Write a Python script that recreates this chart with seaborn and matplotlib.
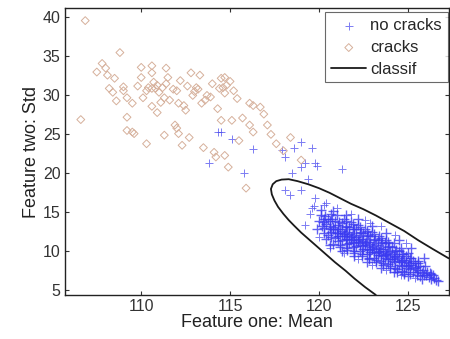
import numpy as np
import seaborn as sns
import matplotlib.pyplot as plt

# cracks: values
cracks_x = [106.85, 106.6, 108.8, 107.5, 107.8, 108.0, 108.1, 108.5, 108.2, 108.4,
            109.0, 109.2, 109.5, 109.2, 109.2, 109.5, 109.6, 110.0, 110.0, 110.1,
            110.3, 110.6, 110.3, 110.6, 110.6, 110.7, 110.8, 111.0, 111.3, 111.4,
            111.5, 111.2, 110.9, 110.6, 111.4, 111.6, 111.3, 112.0, 112.1, 112.0,
            111.9, 112.1, 112.3, 112.4, 112.5, 112.7, 112.8, 112.9, 113.1, 113.3,
            113.4, 113.5, 113.6, 113.7, 114.1, 114.0, 114.4, 114.5, 114.2, 114.7,
            114.6, 114.8, 114.7, 116.1, 116.3, 116.7, 114.5, 115.1, 115.7, 116.1,
            116.3, 117.1, 115.5, 117.6, 118.4, 114.7, 114.9, 119.0, 115.9, 109.8,
            110.4, 111.8, 112.6, 113.0, 113.9, 115.2, 115.0, 109.0, 108.6, 111.1,
            113.2, 112.2, 110.9, 114.3, 115.4, 116.9, 117.3, 118.0]
cracks_y = [39.6, 26.9, 35.5, 33.0, 34.1, 33.5, 32.6, 32.2, 30.9, 30.4,
            30.6, 29.7, 29.0, 27.2, 25.5, 25.3, 25.1, 33.6, 32.3, 29.7,
            30.6, 28.6, 23.8, 33.8, 32.9, 31.7, 30.9, 30.4, 29.7, 33.5,
            32.3, 31.0, 31.3, 30.9, 31.5, 29.4, 24.9, 30.6, 29.0, 25.8,
            26.2, 25.1, 23.6, 28.7, 28.1, 24.6, 32.9, 30.0, 31.0, 32.6,
            29.0, 23.3, 29.4, 30.0, 22.7, 31.5, 30.9, 32.2, 22.1, 32.3,
            31.0, 31.3, 30.3, 29.0, 28.7, 28.5, 26.8, 26.8, 27.1, 26.2,
            25.3, 26.2, 24.2, 23.8, 24.6, 22.3, 20.8, 21.7, 18.1, 31.2,
            31.0, 30.8, 31.2, 30.5, 29.8, 30.6, 31.8, 31.1, 29.3, 29.1,
            30.8, 31.9, 27.8, 28.3, 29.6, 27.6, 25.0, 22.9]

# no cracks: sparse upper-left points
sparse_x = [114.3, 113.8, 114.5, 115.1, 116.3, 117.9, 118.1, 118.6, 119.0, 119.6,
            119.8, 115.8, 118.5, 119.0, 119.2, 119.9, 121.3, 118.1, 119.0, 119.4,
            118.4, 119.8, 119.6, 120.4, 119.5, 119.7, 120.3, 121.0, 121.8, 122.6,
            123.5, 124.3, 120.0, 120.6, 121.4, 122.2, 123.0, 123.8, 124.6, 125.4,
            119.2, 122.9, 124.9]
sparse_y = [25.3, 21.3, 25.3, 24.4, 23.1, 23.0, 22.1, 23.2, 24.0, 23.3,
            21.3, 20.0, 20.1, 20.8, 21.3, 21.0, 20.6, 17.8, 17.8, 19.3,
            17.2, 16.9, 15.5, 16.2, 14.8, 15.8, 16.0, 15.6, 14.8, 14.0,
            13.2, 12.1, 11.8, 10.4, 9.8, 9.0, 8.3, 7.6, 7.0, 6.6,
            13.4, 13.6, 11.0]

# no cracks: dense cloud
dense_x = [120.1, 120.0, 120.2, 120.3, 119.9, 120.1,
           120.5, 120.4, 120.6, 120.5, 120.7, 120.4, 120.6,
           120.9, 120.8, 121.0, 120.9, 121.0, 120.8, 121.1, 120.9,
           121.3, 121.2, 121.4, 121.3, 121.2, 121.4, 121.3, 121.5, 121.2,
           121.7, 121.6, 121.8, 121.7, 121.6, 121.8, 121.7, 121.9, 121.6,
           122.1, 122.0, 122.2, 122.1, 122.0, 122.2, 122.1, 122.3, 122.0,
           122.5, 122.4, 122.6, 122.5, 122.4, 122.6, 122.5, 122.7, 122.4,
           122.9, 122.8, 123.0, 122.9, 122.8, 123.0, 122.9, 123.1, 122.8,
           123.3, 123.2, 123.4, 123.3, 123.2, 123.4, 123.3, 123.5, 123.2,
           123.7, 123.6, 123.8, 123.7, 123.6, 123.8, 123.7, 123.9, 123.6,
           124.1, 124.0, 124.2, 124.1, 124.0, 124.2, 124.1, 124.3, 124.0,
           124.5, 124.4, 124.6, 124.5, 124.4, 124.6, 124.5, 124.7,
           124.9, 124.8, 125.0, 124.9, 124.8, 125.0, 124.9,
           125.3, 125.2, 125.4, 125.3, 125.2, 125.4,
           125.7, 125.6, 125.8, 125.7, 125.6,
           126.1, 126.0, 126.2, 126.3,
           126.5, 126.6, 126.4]
dense_y = [14.6, 13.9, 13.2, 14.1, 12.8, 15.3,
           14.2, 13.5, 12.8, 12.1, 14.8, 11.6, 13.9,
           13.9, 13.1, 12.4, 11.7, 14.6, 10.9, 13.4, 12.8,
           13.6, 12.9, 12.2, 11.5, 10.8, 14.2, 12.6, 13.1, 11.9,
           13.1, 12.5, 11.8, 11.1, 10.4, 13.8, 12.2, 12.8, 11.6,
           12.8, 12.1, 11.4, 10.7, 10.1, 13.4, 11.8, 12.4, 11.1,
           12.3, 11.6, 11.0, 10.3, 9.6, 12.9, 11.3, 11.9, 10.7,
           11.9, 11.2, 10.6, 9.9, 9.2, 12.5, 10.9, 11.5, 10.2,
           11.4, 10.8, 10.1, 9.5, 8.9, 12.0, 10.4, 11.0, 9.8,
           11.0, 10.3, 9.7, 9.1, 8.5, 11.5, 10.0, 10.6, 9.4,
           10.5, 9.9, 9.3, 8.7, 8.1, 11.0, 9.6, 10.1, 9.0,
           10.0, 9.4, 8.8, 8.2, 7.7, 10.4, 9.1, 9.6,
           9.4, 8.9, 8.3, 7.8, 7.3, 9.8, 8.6,
           8.8, 8.3, 7.8, 7.3, 9.2, 8.5,
           8.1, 7.6, 7.2, 6.8, 8.5,
           7.4, 7.0, 6.7, 7.1,
           6.6, 6.3, 6.9]

# no cracks: second pass over the dense core, plus its outer fringe
core_x = [120.3, 120.25, 120.35, 120.3,
          120.7, 120.65, 120.75, 120.7, 120.8,
          121.1, 121.05, 121.15, 121.1, 121.0, 121.2,
          121.5, 121.45, 121.55, 121.5, 121.4, 121.6, 121.5,
          121.9, 121.85, 121.95, 121.9, 121.8, 122.0, 121.9,
          122.3, 122.25, 122.35, 122.3, 122.2, 122.4, 122.3,
          122.7, 122.65, 122.75, 122.7, 122.6, 122.8, 122.7,
          123.1, 123.05, 123.15, 123.1, 123.0, 123.2, 123.1,
          123.5, 123.45, 123.55, 123.5, 123.4, 123.6, 123.5,
          123.9, 123.85, 123.95, 123.9, 123.8, 124.0, 123.9,
          124.3, 124.25, 124.35, 124.3, 124.2, 124.4,
          124.7, 124.65, 124.75, 124.7, 124.6, 124.8,
          125.1, 125.05, 125.15, 125.1, 125.0,
          125.5, 125.45, 125.55, 125.5,
          125.9, 125.85, 125.95,
          126.3, 126.25,
          126.7,
          120.8, 121.5, 122.2, 123.0, 123.8, 124.5, 125.2, 125.9,
          120.6, 121.3, 122.0, 122.7, 123.5, 124.2, 125.0, 125.8]
core_y = [13.0, 13.8, 14.5, 12.3,
          12.5, 13.3, 14.1, 11.8, 12.9,
          12.0, 12.9, 13.7, 11.3, 12.4, 10.6,
          11.6, 12.4, 13.3, 10.9, 12.0, 10.2, 13.9,
          11.2, 12.0, 12.9, 10.5, 11.5, 9.8, 13.5,
          10.8, 11.6, 12.5, 10.0, 11.2, 9.4, 13.1,
          10.3, 11.2, 12.1, 9.6, 10.8, 9.0, 12.6,
          9.9, 10.7, 11.6, 9.2, 10.3, 8.6, 12.2,
          9.5, 10.3, 11.2, 8.8, 9.9, 8.2, 11.7,
          9.0, 9.8, 10.7, 8.4, 9.5, 7.8, 11.2,
          8.6, 9.4, 10.2, 7.9, 9.0, 7.4,
          8.1, 8.9, 9.7, 7.5, 8.6, 7.1,
          7.7, 8.5, 9.2, 7.1, 8.1,
          7.3, 8.0, 8.7, 6.9,
          6.9, 7.6, 8.1,
          6.5, 7.2,
          6.2,
          15.2, 14.6, 14.2, 13.3, 12.4, 11.4, 10.4, 9.2,
          10.8, 10.0, 9.4, 8.6, 7.9, 7.3, 6.8, 6.4]

# classifier boundary
curve_x = [123.2, 122.6, 122.0, 121.5, 120.9, 120.4, 120.0, 119.5, 119.0, 118.6,
           118.3, 118.0, 117.7, 117.5, 117.35, 117.3, 117.4, 117.6, 117.9, 118.3,
           118.8, 119.4, 120.0, 120.6, 121.2, 121.8, 122.5, 123.2, 124.0, 124.8,
           125.6, 126.4, 127.3]
curve_y = [4.4, 5.4, 6.5, 7.5, 8.6, 9.6, 10.4, 11.4, 12.4, 13.3,
           14.0, 14.8, 15.7, 16.5, 17.3, 18.0, 18.6, 19.0, 19.2, 19.25,
           19.0, 18.6, 18.1, 17.5, 16.8, 16.1, 15.4, 14.6, 13.6, 12.6,
           11.4, 10.3, 9.1]

sns.set_style("ticks")
plt.rcParams['font.family'] = ['Liberation Sans', 'DejaVu Sans']
plt.rcParams['xtick.direction'] = 'in'
plt.rcParams['ytick.direction'] = 'in'

fig = plt.figure(figsize=(4.5, 3.39), dpi=100)
ax = fig.add_axes([0.144, 0.13, 0.853, 0.846])

blue = '#4545ee'
tan = '#d6b09b'

sns.scatterplot(x=sparse_x, y=sparse_y, marker='+', s=30, color=blue,
                linewidth=0.7, alpha=0.7, ax=ax, label='no cracks')
core_all_x = np.array(dense_x + core_x)
core_all_y = np.array(dense_y + core_y)
sns.scatterplot(x=core_all_x, y=core_all_y, marker='+', s=48, color='#3a3af0',
                linewidth=1.0, alpha=0.8, ax=ax)
sns.scatterplot(x=cracks_x, y=cracks_y, marker='D', s=16, facecolor='none',
                edgecolor=tan, linewidth=0.7, ax=ax, label='cracks')
ax.plot(curve_x, curve_y, color='#1a1a1a', linewidth=1.3, label='classif')

ax.set_xlim(105.7, 127.3)
ax.set_ylim(4.4, 41.2)
ax.set_xticks([110, 115, 120, 125])
ax.set_yticks([5, 10, 15, 20, 25, 30, 35, 40])
ax.tick_params(top=True, right=True, length=3, width=0.8, labelsize=11.5,
               pad=3, colors='#333333')
for sp in ax.spines.values():
    sp.set_linewidth(1.0)
    sp.set_color('#222222')

ax.set_xlabel("Feature one: Mean", fontsize=13, labelpad=0, color='#222222')
ax.set_ylabel("Feature two: Std", fontsize=13, labelpad=2, color='#222222')

leg = ax.legend(loc='upper right', bbox_to_anchor=(0.998, 0.985), fontsize=12,
                frameon=True, fancybox=False, borderaxespad=0,
                handlelength=2.1, labelspacing=0.4, borderpad=0.35,
                handletextpad=0.25)
leg.get_frame().set_edgecolor('#444444')
leg.get_frame().set_linewidth(0.8)

fig.savefig("out.png", dpi=100)
